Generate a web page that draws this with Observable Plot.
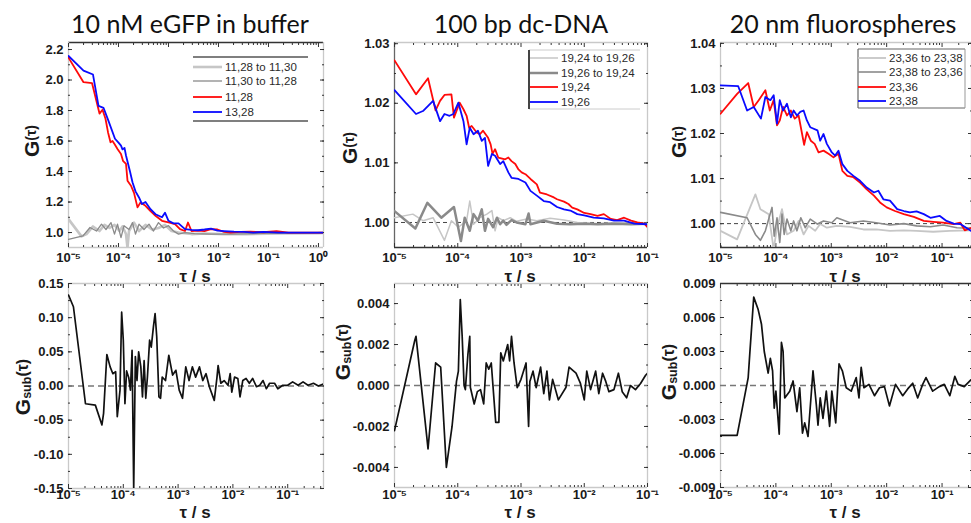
<!DOCTYPE html>
<html>
<head>
<meta charset="utf-8">
<script src="https://cdn.jsdelivr.net/npm/d3@7"></script>
<script src="https://cdn.jsdelivr.net/npm/@observablehq/plot@0.6"></script>
<style>
  html, body { margin: 0; padding: 0; background: #fff; }
  #fig { position: relative; width: 971px; height: 523px; overflow: hidden; background: #fff; }
  #fig > svg { position: absolute; }
</style>
</head>
<body>
<div id="fig"></div>
<script>
// ---------- data: [log10(τ / s), value] ----------

// 10 nM eGFP in buffer — G(τ)
const egfpCross1 = [[-5,1.088],[-4.74,0.975],[-4.64,0.99],[-4.51,1.04],[-4.38,1.01],[-4.28,1.05],[-4.18,1.03],[-4.08,1.05],[-3.98,1.01],[-3.92,1.04],[-3.85,0.99],[-3.82,0.90],[-3.79,1.01],[-3.69,1.065],[-3.59,1.01],[-3.46,1.05],[-3.33,1.02],[-3.20,1.03],[-3.07,1.05],[-2.94,1.01],[-2.80,1.0],[-2.54,0.99],[-2.28,0.994],[-1.89,0.99],[-1.43,0.99],[-0.77,0.994],[0,0.996],[0.1,0.997]];
const egfpCross2 = [[-5,0.956],[-4.71,0.978],[-4.57,1.033],[-4.44,1.01],[-4.34,1.055],[-4.25,1.02],[-4.15,1.065],[-4.08,0.99],[-4.02,1.055],[-3.95,0.967],[-3.89,1.045],[-3.79,1.02],[-3.72,1.065],[-3.66,0.99],[-3.59,1.055],[-3.49,1.02],[-3.39,1.055],[-3.30,1.01],[-3.20,1.065],[-3.10,1.03],[-3.0,1.045],[-2.90,1.01],[-2.80,0.99],[-2.67,1.0],[-2.48,0.993],[-2.15,0.99],[-1.76,0.99],[-1.10,0.994],[0,0.996],[0.1,0.996]];
const egfpAuto1 = [[-5,2.147],[-4.70,1.986],[-4.53,1.98],[-4.38,1.78],[-4.32,1.805],[-4.26,1.746],[-4.21,1.658],[-4.16,1.592],[-4.12,1.60],[-4.08,1.58],[-4.02,1.548],[-3.95,1.515],[-3.91,1.47],[-3.85,1.45],[-3.82,1.34],[-3.75,1.307],[-3.69,1.26],[-3.62,1.165],[-3.56,1.197],[-3.46,1.175],[-3.36,1.14],[-3.26,1.11],[-3.13,1.077],[-3.0,1.066],[-2.87,1.055],[-2.77,1.022],[-2.67,1.01],[-2.61,1.066],[-2.54,1.01],[-2.41,1.012],[-2.28,1.01],[-2.15,1.022],[-2.02,1.02],[-1.89,1.004],[-1.76,1.0],[-1.56,1.004],[-1.36,1.006],[-1.1,1.002],[-0.84,1.01],[-0.6,1.0],[-0.45,1.0],[0,1.0],[0.1,1.0]];
const egfpAuto2 = [[-5,2.158],[-4.70,2.062],[-4.51,2.036],[-4.40,1.83],[-4.30,1.818],[-4.21,1.74],[-4.07,1.615],[-4.0,1.59],[-3.95,1.57],[-3.92,1.545],[-3.88,1.555],[-3.85,1.505],[-3.77,1.40],[-3.72,1.33],[-3.66,1.27],[-3.59,1.23],[-3.53,1.187],[-3.46,1.2],[-3.36,1.153],[-3.26,1.12],[-3.13,1.10],[-3.07,1.13],[-3.0,1.077],[-2.90,1.06],[-2.80,1.06],[-2.67,1.022],[-2.54,1.018],[-2.41,1.015],[-2.28,1.02],[-2.15,1.026],[-2.02,1.012],[-1.89,1.01],[-1.69,1.006],[-1.49,1.004],[-1.3,1.0],[-1.1,1.004],[-0.8,1.0],[-0.6,1.0],[0,1.0],[0.1,1.0]];
// 10 nM eGFP — Gsub(τ)
const egfpSub = [[-5,0.133],[-4.91,0.116],[-4.69,-0.026],[-4.51,-0.028],[-4.39,-0.057],[-4.36,-0.04],[-4.30,0.046],[-4.24,0.028],[-4.19,0.018],[-4.14,0.021],[-4.11,-0.045],[-4.06,-0.006],[-4.03,0.108],[-4.0,0.067],[-3.97,-0.026],[-3.94,0.022],[-3.90,0.012],[-3.87,-0.006],[-3.84,0.052],[-3.81,-0.15],[-3.78,0.043],[-3.75,0.008],[-3.72,0.05],[-3.68,0.028],[-3.65,-0.016],[-3.62,0.037],[-3.59,-0.018],[-3.56,0.013],[-3.52,0.067],[-3.49,0.057],[-3.45,0.087],[-3.42,0.106],[-3.39,0.072],[-3.35,-0.016],[-3.32,-0.018],[-3.29,0.013],[-3.23,0.008],[-3.17,0.045],[-3.10,0.016],[-3.04,0.023],[-2.98,-0.006],[-2.92,-0.018],[-2.86,0.028],[-2.80,0.008],[-2.74,0.028],[-2.68,0.013],[-2.61,0.028],[-2.55,0.008],[-2.49,0.018],[-2.43,-0.001],[-2.34,-0.021],[-2.29,0.013],[-2.27,0.03],[-2.22,0.004],[-2.16,0.008],[-2.09,0.001],[-2.05,0.018],[-2.02,-0.009],[-1.97,0.013],[-1.91,0.011],[-1.87,-0.016],[-1.82,0.008],[-1.76,0.011],[-1.70,0.004],[-1.64,0.011],[-1.57,-0.001],[-1.51,0.001],[-1.45,0.008],[-1.39,-0.004],[-1.33,0.004],[-1.24,0.004],[-1.18,-0.004],[-1.09,0.001],[-1.0,0.001],[-0.91,0.006],[-0.81,0.001],[-0.72,0.006],[-0.63,0.001],[-0.53,0.004],[-0.44,0.0],[-0.35,0.003]];

// 100 bp dc-DNA — G(τ)
const dnaCross1 = [[-5,1.0008],[-4.71,1.0014],[-4.55,1.0003],[-4.39,1.0008],[-4.21,0.997],[-4.10,1.0003],[-3.99,0.9992],[-3.86,1.0003],[-3.81,1.0036],[-3.75,0.9997],[-3.65,1.0008],[-3.54,1.0014],[-3.46,1.002],[-3.41,0.9986],[-3.36,1.0008],[-3.28,1.0003],[-3.17,1.0008],[-3.07,1.0002],[-2.91,1.0006],[-2.75,1.0003],[-2.54,1.0007],[-2.32,1.0004],[-2.11,1.0],[-1.79,0.9998],[-1.48,1.0],[-1.0,0.9998]];
const dnaCross2 = [[-5,1.0019],[-4.67,0.999],[-4.48,1.0033],[-4.26,1.0008],[-4.06,1.0026],[-3.95,0.9969],[-3.89,1.0008],[-3.81,0.9986],[-3.75,1.0014],[-3.68,1.0003],[-3.62,1.0022],[-3.57,0.9986],[-3.52,1.0006],[-3.44,0.9992],[-3.38,1.0008],[-3.33,0.9997],[-3.28,1.0003],[-3.23,0.9996],[-3.15,1.0004],[-3.07,1.0],[-2.93,0.9997],[-2.88,1.0015],[-2.85,0.9997],[-2.64,1.0003],[-2.43,0.9998],[-2.22,0.9997],[-2.0,0.9998],[-1.79,0.9997],[-1.53,0.9998],[-1.26,0.9997],[-1.0,0.9998]];
const dnaAuto1 = [[-5,1.0272],[-4.66,1.0215],[-4.47,1.0242],[-4.35,1.0188],[-4.28,1.0204],[-4.21,1.0214],[-4.10,1.0215],[-4.06,1.0176],[-3.97,1.0201],[-3.91,1.019],[-3.86,1.0179],[-3.82,1.0159],[-3.78,1.0162],[-3.70,1.0151],[-3.65,1.0148],[-3.60,1.0154],[-3.52,1.0142],[-3.48,1.0131],[-3.45,1.0115],[-3.41,1.0123],[-3.36,1.0109],[-3.25,1.0106],[-3.20,1.0109],[-3.15,1.0103],[-3.09,1.0098],[-3.04,1.0089],[-2.99,1.0084],[-2.93,1.0081],[-2.85,1.0073],[-2.75,1.0064],[-2.70,1.005],[-2.59,1.0047],[-2.48,1.0042],[-2.43,1.0039],[-2.32,1.0035],[-2.25,1.0031],[-2.19,1.0025],[-2.11,1.0022],[-2.0,1.0016],[-1.90,1.0014],[-1.79,1.0011],[-1.69,1.0014],[-1.58,1.0006],[-1.48,1.0004],[-1.37,1.0008],[-1.26,1.0003],[-1.16,1.0],[-1.05,0.9998],[-1.0,0.9992]];
const dnaAuto2 = [[-5,1.0222],[-4.66,1.0182],[-4.55,1.0187],[-4.39,1.0204],[-4.28,1.017],[-4.21,1.0182],[-4.13,1.0179],[-4.07,1.0182],[-3.99,1.0201],[-3.91,1.017],[-3.86,1.0131],[-3.81,1.0159],[-3.75,1.0148],[-3.68,1.0154],[-3.62,1.0137],[-3.57,1.0142],[-3.52,1.0095],[-3.46,1.0115],[-3.41,1.0112],[-3.33,1.0098],[-3.28,1.0103],[-3.20,1.0084],[-3.15,1.0075],[-3.04,1.0073],[-2.93,1.0067],[-2.85,1.0053],[-2.75,1.0045],[-2.64,1.0036],[-2.54,1.0034],[-2.43,1.0026],[-2.32,1.0022],[-2.22,1.002],[-2.11,1.0014],[-2.0,1.0012],[-1.85,1.0008],[-1.69,1.0007],[-1.53,1.0003],[-1.37,1.0003],[-1.21,0.9998],[-1.0,0.9997]];
// 100 bp dc-DNA — Gsub(τ)
const dnaSub = [[-5,-0.0022],[-4.68,0.0022],[-4.66,0.0024],[-4.49,-0.0025],[-4.47,-0.0031],[-4.35,0.0011],[-4.27,0.0009],[-4.18,-0.004],[-4.09,-0.002],[-4.02,0.0002],[-3.99,0.0007],[-3.96,0.0042],[-3.93,0.0024],[-3.90,0.0],[-3.88,-0.0002],[-3.84,0.0015],[-3.81,0.0024],[-3.80,-0.0001],[-3.74,-0.0009],[-3.69,-0.0003],[-3.64,-0.0002],[-3.59,-0.0009],[-3.55,0.0011],[-3.51,0.0008],[-3.47,0.0011],[-3.40,-0.0018],[-3.35,-0.0018],[-3.32,0.0016],[-3.28,0.0012],[-3.21,0.002],[-3.18,0.0012],[-3.15,0.0024],[-3.11,0.0011],[-3.06,-0.0001],[-3.0,0.0003],[-2.92,0.0011],[-2.88,-0.002],[-2.86,0.0002],[-2.81,0.0007],[-2.76,-0.0001],[-2.69,0.0009],[-2.64,-0.0004],[-2.59,0.0007],[-2.55,-0.0007],[-2.50,0.0003],[-2.41,-0.0007],[-2.29,-0.0001],[-2.24,0.0009],[-2.13,0.0006],[-2.06,0.0001],[-2.0,-0.0007],[-1.96,0.0007],[-1.90,-0.0002],[-1.82,0.0007],[-1.77,-0.0004],[-1.71,0.0006],[-1.66,0.0002],[-1.61,-0.0003],[-1.53,-0.0002],[-1.46,0.0006],[-1.40,-0.0003],[-1.33,-0.0006],[-1.27,0.0],[-1.19,-0.0002],[-1.11,0.0001],[-1.03,0.0005],[-1.0,0.0006]];

// 20 nm fluorospheres — G(τ)
const sphereCross1 = [[-5,0.9984],[-4.70,0.9965],[-4.37,1.0065],[-4.28,1.0032],[-4.13,1.0021],[-4.04,0.9943],[-3.98,0.9991],[-3.89,1.0032],[-3.80,0.9976],[-3.68,0.9984],[-3.59,1.0006],[-3.50,0.9976],[-3.41,0.9995],[-3.29,0.9984],[-3.20,0.9999],[-3.08,0.9991],[-2.90,0.9995],[-2.66,0.9993],[-2.42,0.9987],[-2.19,0.9987],[-1.94,0.9984],[-1.69,0.9985],[-1.46,0.9984],[-1.16,0.9982],[-0.86,0.9984],[-0.48,0.9985]];
const sphereCross2 = [[-5,1.0025],[-4.52,1.0013],[-4.37,0.9976],[-4.28,0.9963],[-4.19,0.9984],[-4.07,1.0036],[-4.03,0.9972],[-3.98,1.0013],[-3.93,0.9958],[-3.89,1.0021],[-3.85,0.9976],[-3.80,1.001],[-3.73,0.9984],[-3.68,1.0006],[-3.62,0.9984],[-3.55,1.0013],[-3.47,0.9991],[-3.38,1.001],[-3.25,0.9999],[-3.14,1.0006],[-2.99,1.0002],[-2.90,1.0013],[-2.66,1.0002],[-2.42,1.0006],[-2.19,1.0002],[-1.94,0.9997],[-1.69,1.0],[-1.46,0.9995],[-1.21,0.9993],[-0.98,0.9997],[-0.73,0.9991],[-0.48,0.999]];
const sphereAuto1 = [[-5,1.0244],[-4.70,1.0288],[-4.50,1.0312],[-4.40,1.0259],[-4.31,1.0274],[-4.19,1.0296],[-4.11,1.0251],[-4.04,1.0274],[-3.98,1.0218],[-3.93,1.0229],[-3.87,1.0259],[-3.80,1.024],[-3.73,1.0251],[-3.66,1.0233],[-3.59,1.024],[-3.49,1.0175],[-3.44,1.0203],[-3.37,1.0184],[-3.30,1.0177],[-3.23,1.0158],[-3.14,1.0162],[-3.05,1.0155],[-2.96,1.0147],[-2.87,1.0155],[-2.80,1.0117],[-2.71,1.0106],[-2.60,1.0103],[-2.48,1.0091],[-2.36,1.0076],[-2.23,1.0062],[-2.12,1.0047],[-2.0,1.0036],[-1.85,1.0028],[-1.69,1.0021],[-1.51,1.0015],[-1.33,1.0006],[-1.16,1.0004],[-0.98,1.0002],[-0.79,0.9999],[-0.67,1.0002],[-0.59,0.9985],[-0.48,0.999]];
const sphereAuto2 = [[-5,1.0307],[-4.68,1.0305],[-4.52,1.0251],[-4.40,1.0259],[-4.27,1.0233],[-4.19,1.0281],[-4.10,1.0274],[-4.04,1.0285],[-3.98,1.0222],[-3.93,1.0274],[-3.87,1.0251],[-3.80,1.0266],[-3.73,1.0236],[-3.68,1.0251],[-3.62,1.024],[-3.56,1.0248],[-3.50,1.0251],[-3.44,1.0229],[-3.38,1.0214],[-3.25,1.0207],[-3.20,1.0184],[-3.14,1.0199],[-3.08,1.0177],[-2.99,1.0158],[-2.93,1.0151],[-2.87,1.0162],[-2.80,1.0132],[-2.71,1.0117],[-2.60,1.0106],[-2.48,1.0095],[-2.36,1.008],[-2.23,1.0069],[-2.15,1.0073],[-2.06,1.0054],[-1.94,1.0051],[-1.81,1.0032],[-1.69,1.0028],[-1.58,1.0025],[-1.46,1.0027],[-1.33,1.0021],[-1.21,1.0013],[-1.04,1.0017],[-0.92,1.0006],[-0.79,1.0],[-0.67,0.9999],[-0.48,0.9984]];
// 20 nm fluorospheres — Gsub(τ)
const sphereSub = [[-5,-0.0044],[-4.70,-0.0044],[-4.50,0.0007],[-4.47,0.0029],[-4.40,0.0078],[-4.32,0.0067],[-4.26,0.0054],[-4.21,0.003],[-4.14,0.0011],[-4.10,0.0024],[-4.06,0.0013],[-4.03,-0.002],[-4.0,-0.0005],[-3.94,-0.0043],[-3.90,0.0038],[-3.87,0.003],[-3.84,-0.0011],[-3.75,-0.0005],[-3.69,0.0004],[-3.62,-0.0023],[-3.57,-0.0002],[-3.52,-0.0042],[-3.48,-0.0033],[-3.42,-0.0045],[-3.33,0.0013],[-3.27,-0.0017],[-3.24,-0.0035],[-3.20,-0.0011],[-3.15,-0.0029],[-3.09,-0.0005],[-3.03,-0.0036],[-2.99,-0.0005],[-2.92,-0.0033],[-2.86,0.0019],[-2.80,0.0013],[-2.73,-0.0002],[-2.64,-0.0005],[-2.55,0.0007],[-2.50,-0.0011],[-2.46,0.0016],[-2.41,-0.0002],[-2.32,0.0001],[-2.22,-0.0009],[-2.13,-0.0002],[-2.04,-0.0001],[-1.95,-0.0018],[-1.84,0.0001],[-1.71,-0.0009],[-1.62,-0.0003],[-1.53,0.0002],[-1.44,-0.0011],[-1.35,0.0001],[-1.29,0.0007],[-1.17,-0.0005],[-1.05,-0.0001],[-0.96,0.0001],[-0.86,-0.0009],[-0.77,0.0008],[-0.71,0.0001],[-0.60,-0.0001],[-0.48,0.0005]];

// ---------- tick values and labels ----------
const decades = [1e-5, 1e-4, 1e-3, 1e-2, 1e-1, 1];
const egfpYTicks = [1.0, 1.2, 1.4, 1.6, 1.8, 2.0, 2.2];
const dnaYTicks = [1.00, 1.01, 1.02, 1.03];
const sphereYTicks = [1.00, 1.01, 1.02, 1.03, 1.04];
const egfpSubYTicks = [-0.15, -0.10, -0.05, 0, 0.05, 0.10, 0.15];
const dnaSubYTicks = [-0.004, -0.002, 0, 0.002, 0.004];
const sphereSubYTicks = [-0.009, -0.006, -0.003, 0, 0.003, 0.006, 0.009];

const titles = ["10 nM eGFP in buffer", "100 bp dc-DNA", "20 nm fluorospheres"];
const egfpKeys = ["11,28 to 11,30", "11,30 to 11,28", "11,28", "13,28"];
const dnaKeys = ["19,24 to 19,26", "19,26 to 19,24", "19,24", "19,26"];
const sphereKeys = ["23,36 to 23,38", "23,38 to 23,36", "23,36", "23,38"];

// ---------- styling ----------
const FONT = '"Liberation Sans", Arial, Helvetica, sans-serif';
const RED = "#ff0a0a", BLUE = "#0a0aff", LIGHT = "#c6c6c6", MID = "#8a8a8a";
const FRAME_LIGHT = "#c9c9c9", FRAME_DARK = "#333";

const SUP = {"-": "⁻", "0": "⁰", "1": "¹", "2": "²", "3": "³", "4": "⁴", "5": "⁵", "6": "⁶", "7": "⁷", "8": "⁸", "9": "⁹"};
const decadeLabel = t => "10" + String(Math.round(Math.log10(t))).replace(/./g, c => SUP[c]);
const fixed = n => { const f = d3.format(`.${n}f`); return v => f(v).replace("−", "-"); };

// panel layout: plot-area box in page pixels
const topStyle = (cross1W, cross2W) => [
  {w: cross1W, c: LIGHT}, {w: cross2W, c: MID}, {w: 1.8, c: RED}, {w: 1.8, c: BLUE}
];

const panels = [
  {left: 68, top: 42, w: 255, h: 205, xDomain: [1e-5, 1.26], yDomain: [0.902, 2.246],
   yTicks: egfpYTicks, yStep: 0.2, yFmt: fixed(1), xPad: 5,
   frame: {top: FRAME_DARK, bottom: FRAME_LIGHT, left: FRAME_LIGHT, right: FRAME_LIGHT},
   series: [egfpCross1, egfpCross2, egfpAuto1, egfpAuto2], styles: topStyle(2.6, 1.3)},
  {left: 394, top: 42, w: 253, h: 205, xDomain: [1e-5, 0.1], yDomain: [0.9958, 1.0302],
   yTicks: dnaYTicks, yStep: 0.01, yFmt: fixed(2), xPad: 5, baseline: 1,
   frame: {top: FRAME_LIGHT, bottom: FRAME_DARK, left: "#666", right: FRAME_LIGHT},
   series: [dnaCross1, dnaCross2, dnaAuto1, dnaAuto2], styles: topStyle(1.5, 2.5)},
  {left: 720, top: 42, w: 251, h: 205, xDomain: [1e-5, 0.34], yDomain: [0.9947, 1.0402],
   yTicks: sphereYTicks, yStep: 0.01, yFmt: fixed(2), xPad: 5, baseline: 1,
   frame: {top: FRAME_LIGHT, bottom: FRAME_DARK, left: FRAME_LIGHT, right: FRAME_LIGHT},
   series: [sphereCross1, sphereCross2, sphereAuto1, sphereAuto2], styles: topStyle(1.8, 1.6)},
  {left: 68, top: 283, w: 255, h: 205, xDomain: [1e-5, 0.45], yDomain: [-0.15, 0.15],
   yTicks: egfpSubYTicks, yStep: 0.05, yFmt: fixed(2), xPad: 1, baseline: 0,
   frame: {top: FRAME_LIGHT, bottom: FRAME_LIGHT, left: FRAME_LIGHT, right: FRAME_LIGHT},
   series: [egfpSub], styles: [{w: 1.7, c: "#111"}]},
  {left: 394, top: 283, w: 253, h: 204, xDomain: [1e-5, 0.1], yDomain: [-0.00498, 0.00498],
   yTicks: dnaSubYTicks, yStep: 0.002, yFmt: fixed(3), xPad: 2, baseline: 0,
   frame: {top: FRAME_LIGHT, bottom: FRAME_LIGHT, left: FRAME_LIGHT, right: FRAME_LIGHT},
   series: [dnaSub], styles: [{w: 1.7, c: "#111"}]},
  {left: 720, top: 283, w: 251, h: 204, xDomain: [1e-5, 0.34], yDomain: [-0.009, 0.009],
   yTicks: sphereSubYTicks, yStep: 0.003, yFmt: fixed(3), xPad: 2, baseline: 0,
   frame: {top: FRAME_DARK, bottom: FRAME_LIGHT, left: FRAME_LIGHT, right: FRAME_LIGHT},
   series: [sphereSub], styles: [{w: 1.7, c: "#111"}]}
];

const ML = 60, MR = 16, MT = 6, MB = 28;
const fig = document.getElementById("fig");

function isDecade(t) { const l = Math.log10(t); return Math.abs(l - Math.round(l)) < 1e-9; }

function drawPanel(p, i) {
  const xMajor = decades.filter(t => t >= p.xDomain[0] && t <= p.xDomain[1] * 1.0001);
  const xMinor = d3.scaleLog().domain(p.xDomain).ticks().filter(t => !isDecade(t));
  const yMinor = d3.range(p.yTicks[0] - p.yStep, p.yDomain[1] + p.yStep, p.yStep / 2)
    .filter(v => v > p.yDomain[0] && v < p.yDomain[1]);
  const tickStyle = {stroke: "#333", strokeWidth: 1, fill: "none"};
  const isTop = i < 3;

  const marks = [
    // frame edges
    Plot.ruleY([p.yDomain[0]], {stroke: p.frame.bottom, strokeWidth: 1.3}),
    Plot.ruleY([p.yDomain[1]], {stroke: p.frame.top, strokeWidth: 1.3}),
    Plot.ruleX([p.xDomain[0]], {stroke: p.frame.left, strokeWidth: 1.3}),
    Plot.ruleX([p.xDomain[1]], {stroke: p.frame.right, strokeWidth: 1.3}),
    // inward major / minor ticks on all four sides
    Plot.axisX(xMajor, {anchor: "bottom", tickSize: 4, dy: -4, ...tickStyle}),
    Plot.axisX(xMinor, {anchor: "bottom", tickSize: 2, dy: -2, ...tickStyle}),
    Plot.axisX(xMajor, {anchor: "top", tickSize: 4, dy: 4, ...tickStyle}),
    Plot.axisX(xMinor, {anchor: "top", tickSize: 2, dy: 2, ...tickStyle}),
    Plot.axisY(p.yTicks, {anchor: "left", tickSize: 4, dx: 4, ...tickStyle}),
    Plot.axisY(yMinor, {anchor: "left", tickSize: 2, dx: 2, ...tickStyle}),
    Plot.axisY(p.yTicks, {anchor: "right", tickSize: 4, dx: -4, ...tickStyle}),
    Plot.axisY(yMinor, {anchor: "right", tickSize: 2, dx: -2, ...tickStyle}),
    // tick labels
    Plot.axisX(xMajor, {anchor: "bottom", tickSize: 0, tickPadding: p.xPad, tickFormat: decadeLabel, fill: "#1a1a1a"}),
    Plot.axisY(p.yTicks, {anchor: "left", tickSize: 0, tickPadding: 5, tickFormat: p.yFmt, fill: "#1a1a1a"})
  ];
  if (p.baseline !== undefined) {
    marks.push(Plot.ruleY([p.baseline], isTop
      ? {stroke: "#444", strokeWidth: 1, strokeDasharray: "4,3"}
      : {stroke: "#777", strokeWidth: 1.6, strokeDasharray: "6,4"}));
  }
  p.series.forEach((s, k) => {
    marks.push(Plot.line(s, {x: d => 10 ** d[0], y: d => d[1], stroke: p.styles[k].c,
      strokeWidth: p.styles[k].w, clip: true, curve: "linear"}));
  });

  const svg = Plot.plot({
    width: p.w + ML + MR, height: p.h + MT + MB,
    marginLeft: ML, marginRight: MR, marginTop: MT, marginBottom: MB,
    x: {type: "log", domain: p.xDomain, label: null},
    y: {domain: p.yDomain, label: null},
    style: {background: "transparent", overflow: "visible", fontFamily: FONT,
            fontSize: "13px", fontWeight: "bold", color: "#1a1a1a"},
    marks
  });
  svg.style.left = (p.left - ML) + "px";
  svg.style.top = (p.top - MT) + "px";
  fig.appendChild(svg);
}
panels.forEach(drawPanel);

// ---------- titles, axis titles and legends ----------
const ns = "http://www.w3.org/2000/svg";
const ov = d3.select(fig).append("svg")
  .attr("width", 971).attr("height", 523)
  .style("left", "0px").style("top", "0px").style("pointer-events", "none");

const titleX = [190, 521, 843];
titles.forEach((t, i) => ov.append("text").attr("x", titleX[i]).attr("y", 33)
  .attr("text-anchor", "middle").attr("font-family", "Lato, 'Open Sans', sans-serif")
  .attr("font-size", 25).attr("fill", "#111").text(t));

// x titles
[195, 520, 845].forEach(x => {
  ov.append("text").attr("x", x).attr("y", 282).attr("text-anchor", "middle")
    .attr("font-family", FONT).attr("font-weight", "bold").attr("font-size", 17).attr("fill", "#1a1a1a").text("τ / s");
  ov.append("text").attr("x", x).attr("y", 518).attr("text-anchor", "middle")
    .attr("font-family", FONT).attr("font-weight", "bold").attr("font-size", 17).attr("fill", "#1a1a1a").text("τ / s");
});

// y titles
function yTitle(x, y, sub) {
  const t = ov.append("text")
    .attr("transform", `translate(${x},${y}) rotate(-90)`)
    .attr("text-anchor", "middle").attr("dominant-baseline", "central")
    .attr("font-family", FONT).attr("font-weight", "bold").attr("fill", "#1a1a1a");
  t.append("tspan").attr("font-size", 21).text("G");
  if (sub) {
    t.append("tspan").attr("font-size", 12.5).attr("dy", 5).text("sub");
    t.append("tspan").attr("font-size", 16).attr("dy", -5).text("(τ)");
  } else {
    t.append("tspan").attr("font-size", 14).text("(τ)");
  }
}
yTitle(31, 141, false); yTitle(349, 148, false); yTitle(678, 142, false);
yTitle(22, 387, true); yTitle(342, 352, true); yTitle(668, 372, true);

// legends
function legend(box, rows, keys, styles, edges) {
  const g = ov.append("g");
  edges.forEach(([x1, y1, x2, y2, c, w]) => g.append("line")
    .attr("x1", x1).attr("y1", y1).attr("x2", x2).attr("y2", y2).attr("stroke", c).attr("stroke-width", w));
  keys.forEach((k, i) => {
    g.append("line").attr("x1", box.x0).attr("x2", box.x0 + box.sw).attr("y1", rows[i]).attr("y2", rows[i])
      .attr("stroke", styles[i].c).attr("stroke-width", styles[i].w);
    g.append("text").attr("x", box.x0 + box.sw + 3).attr("y", rows[i]).attr("dominant-baseline", "central")
      .attr("font-family", FONT).attr("font-size", 11.5).attr("fill", "#2a2a2a").text(k);
  });
}
legend({x0: 193, sw: 29}, [67, 81, 97, 112], egfpKeys, panels[0].styles,
  [[193, 57, 308, 57, "#555", 1.5], [193, 121, 308, 121, "#555", 1.5]]);
legend({x0: 530, sw: 28}, [58, 73, 87, 102], dnaKeys, panels[1].styles,
  [[529, 50, 640, 50, "#ccc", 1], [529, 109, 640, 109, "#ccc", 1], [529, 50, 529, 109, "#444", 2]]);
legend({x0: 858, sw: 28}, [58, 72, 87, 101], sphereKeys, panels[2].styles,
  [[858, 49, 965, 49, "#666", 1.2], [858, 108, 965, 108, "#666", 1.2], [858, 49, 858, 108, "#666", 1.2], [965, 49, 965, 108, "#999", 1]]);
</script>
</body>
</html>
